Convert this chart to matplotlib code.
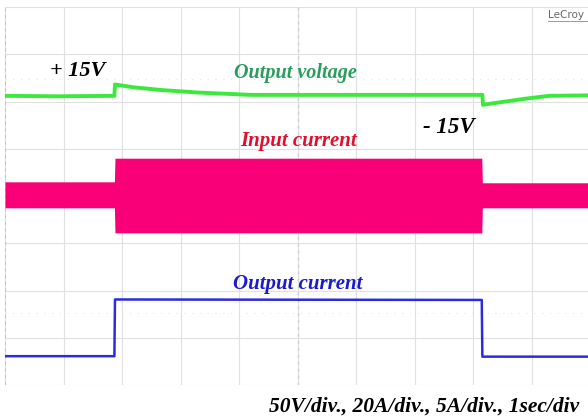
import numpy as np
import matplotlib
matplotlib.use('Agg')
import matplotlib.pyplot as plt

# Scope traces, time in seconds (1 sec/div), level in divisions from bottom (0..8)
v_out_t = [0.0, 0.9, 1.87, 1.88, 2.2, 2.7, 3.3, 4.2, 6.0, 8.16, 8.17, 8.5, 8.9, 9.3, 10.0]
v_out_y = [6.12, 6.11, 6.12, 6.36, 6.30, 6.24, 6.19, 6.14, 6.14, 6.14, 5.93, 5.99, 6.06, 6.12, 6.13]

i_in_t = [0.0, 1.87, 1.88, 8.15, 8.16, 10.0]
i_in_hi = [4.30, 4.30, 4.80, 4.80, 4.28, 4.28]
i_in_lo = [3.75, 3.75, 3.22, 3.22, 3.75, 3.75]

i_out_t = [0.0, 1.87, 1.88, 8.15, 8.16, 10.0]
i_out_y = [0.61, 0.61, 1.81, 1.80, 0.60, 0.60]

plt.rcParams['font.family'] = ['Liberation Serif', 'DejaVu Serif']

fig = plt.figure(figsize=(5.88, 4.18), dpi=100)
fig.patch.set_facecolor('white')
ax = fig.add_axes([5 / 588, 33 / 418, 585 / 588, 378 / 418])
ax.set_xlim(0, 10)
ax.set_ylim(0, 8)
ax.axis('off')

# graticule
for x in range(0, 11):
    ax.axvline(x, color='#e0e0e0', lw=0.8, zorder=0)
for y in range(0, 9):
    ax.axhline(y, color='#e0e0e0', lw=0.8, zorder=0)
ax.axhline(6.48, color='#e4e4e4', lw=0.8, ls=(0, (1, 6)), zorder=0)
ax.axhline(1.52, color='#e4e4e4', lw=0.8, ls=(0, (1, 6)), zorder=0)
ax.axvline(5, color='#cccccc', lw=1.0, ls=(0, (2, 3)), zorder=0)
ax.axvline(0, color='#bbbbbb', lw=1.2, ls=(0, (2, 2)), zorder=0)

# traces
ax.fill_between(i_in_t, i_in_lo, i_in_hi, color='#fa0078', lw=0, zorder=2)
ax.plot(v_out_t, v_out_y, color='#3de83d', lw=2.8, zorder=3)
ax.plot(i_out_t, i_out_y, color='#2b2be0', lw=1.8, zorder=3)

# labels
style = dict(fontweight='bold', fontstyle='italic', ha='center', va='center')
ax.text(1.25, 6.64, '+ 15V', color='black', fontsize=16, **style)
ax.text(4.96, 6.60, 'Output voltage', color='#2a9d5c', fontsize=14.5, **style)
ax.text(5.01, 5.17, 'Input current', color='#e0102e', fontsize=15, **style)
ax.text(7.59, 5.44, '- 15V', color='black', fontsize=16.5, **style)
ax.text(5.01, 2.14, 'Output current', color='#1a1ad0', fontsize=15, **style)

fig.text(424 / 588, 11 / 418, '50V/div., 20A/div., 5A/div., 1sec/div',
         color='black', fontsize=15.5, **style)
fig.text(548 / 588, 403 / 418, 'LeCroy', color='#666666', fontsize=7.5,
         family='DejaVu Sans', ha='left', va='center')
fig.add_artist(plt.Line2D([548 / 588, 1.0], [397 / 418, 397 / 418],
                          color='#888888', lw=0.6))

fig.savefig('out.png', dpi=100)
